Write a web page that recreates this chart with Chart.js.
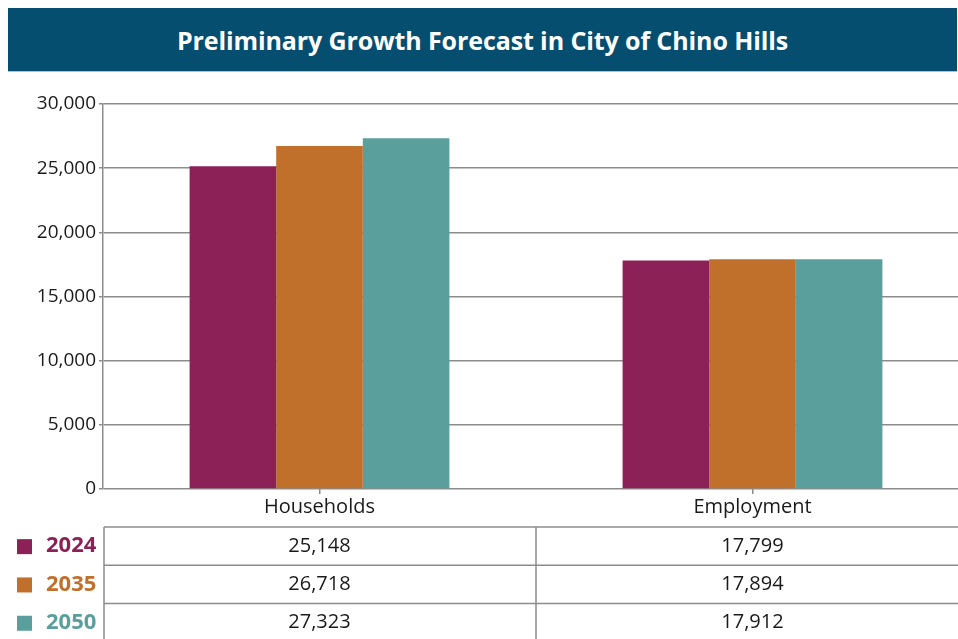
<!DOCTYPE html>
<html>
<head>
<meta charset="utf-8">
<script src="https://cdn.jsdelivr.net/npm/chart.js@4"></script>
<style>
    body { margin: 0; width: 958px; height: 639px; overflow: hidden; background: #fff; position: relative; }
    #titleBar {
        position: absolute; left: 8px; top: 8px; width: 949px; height: 63px;
        background: #054e70; color: #fff; font-family: "Open Sans", sans-serif;
        font-weight: bold; font-size: 25px; line-height: 64px; text-align: center;
        letter-spacing: -0.1px; border-bottom: 1px solid #9cc6de;
    }
    #wrap { position: absolute; left: 0; top: 0; width: 969px; height: 639px; }
</style>
</head>
<body>
<div id="titleBar">Preliminary Growth Forecast in City of Chino Hills</div>
<div id="wrap"><canvas id="growthChart"></canvas></div>
<script>
var categories = ['Households', 'Employment'];
var years = ['2024', '2035', '2050'];
var values2024 = [25148, 17799];
var values2035 = [26718, 17894];
var values2050 = [27323, 17912];
var yTicks = [0, 5000, 10000, 15000, 20000, 25000, 30000];

var seriesColors = ['#8c2157', '#c0702a', '#5a9f9c'];
var seriesValues = [values2024, values2035, values2050];
var gridColor = '#8c8c8c';
var fontFamily = '"Open Sans", sans-serif';

// draws the data table with legend swatches under the chart
var dataTablePlugin = {
    id: 'dataTable',
    afterDraw: function(chart) {
        var ctx = chart.ctx;
        var xScale = chart.scales.x;
        var left = chart.chartArea.left + 1;
        var right = chart.width;
        var top = 527;
        var rowH = 38.3;
        var midX = (xScale.getPixelForValue(0) + xScale.getPixelForValue(1)) / 2;

        ctx.save();
        ctx.strokeStyle = gridColor;
        ctx.lineWidth = 1.5;
        for (var r = 0; r <= years.length; r++) {
            var y = top + r * rowH;
            ctx.beginPath();
            ctx.moveTo(left, y);
            ctx.lineTo(right, y);
            ctx.stroke();
        }
        ctx.beginPath();
        ctx.moveTo(left, top);
        ctx.lineTo(left, chart.height);
        ctx.moveTo(midX, top);
        ctx.lineTo(midX, chart.height);
        ctx.stroke();

        ctx.textBaseline = 'middle';
        for (var i = 0; i < years.length; i++) {
            var cy = top + i * rowH + rowH / 2;
            ctx.fillStyle = seriesColors[i];
            ctx.fillRect(17, cy - 7, 15, 15);
            ctx.font = 'bold 22px ' + fontFamily;
            ctx.textAlign = 'left';
            ctx.fillText(years[i], 46, cy);

            ctx.fillStyle = '#1a1a1a';
            ctx.font = '20px ' + fontFamily;
            ctx.textAlign = 'center';
            for (var j = 0; j < categories.length; j++) {
                ctx.fillText(seriesValues[i][j].toLocaleString('en-US'), xScale.getPixelForValue(j), cy);
            }
        }
        ctx.restore();
    }
};

var canvas = document.getElementById('growthChart');

var chart = new Chart(canvas, {
    type: 'bar',
    data: {
        labels: categories,
        datasets: years.map(function(year, i) {
            return {
                label: year,
                data: seriesValues[i],
                backgroundColor: seriesColors[i],
                borderWidth: 0,
                categoryPercentage: 0.6,
                barPercentage: 1.0
            };
        })
    },
    options: {
        responsive: true,
        maintainAspectRatio: false,
        animation: false,
        layout: {
            padding: { top: 104, left: 0, right: 0, bottom: 110 }
        },
        scales: {
            x: {
                offset: true,
                afterFit: function(scale) { scale.height = 40; },
                grid: {
                    offset: false,
                    drawOnChartArea: false,
                    tickLength: 5,
                    color: gridColor,
                    lineWidth: 1.5
                },
                border: { display: false },
                ticks: {
                    color: '#1a1a1a',
                    font: { family: fontFamily, size: 20 },
                    padding: 1
                }
            },
            y: {
                min: 0,
                max: 30000,
                afterFit: function(scale) { scale.width = 103; },
                afterBuildTicks: function(scale) {
                    scale.ticks = yTicks.map(function(v) { return { value: v }; });
                },
                grid: {
                    color: gridColor,
                    lineWidth: 1.5,
                    tickLength: 4
                },
                border: { color: gridColor, width: 1.5 },
                ticks: {
                    color: '#1a1a1a',
                    font: { family: fontFamily, size: 19 },
                    padding: 3,
                    callback: function(value) {
                        return value.toLocaleString('en-US');
                    }
                }
            }
        },
        plugins: {
            legend: { display: false },
            title: { display: false },
            tooltip: { enabled: false }
        }
    },
    plugins: [dataTablePlugin]
});
</script>
</body>
</html>
